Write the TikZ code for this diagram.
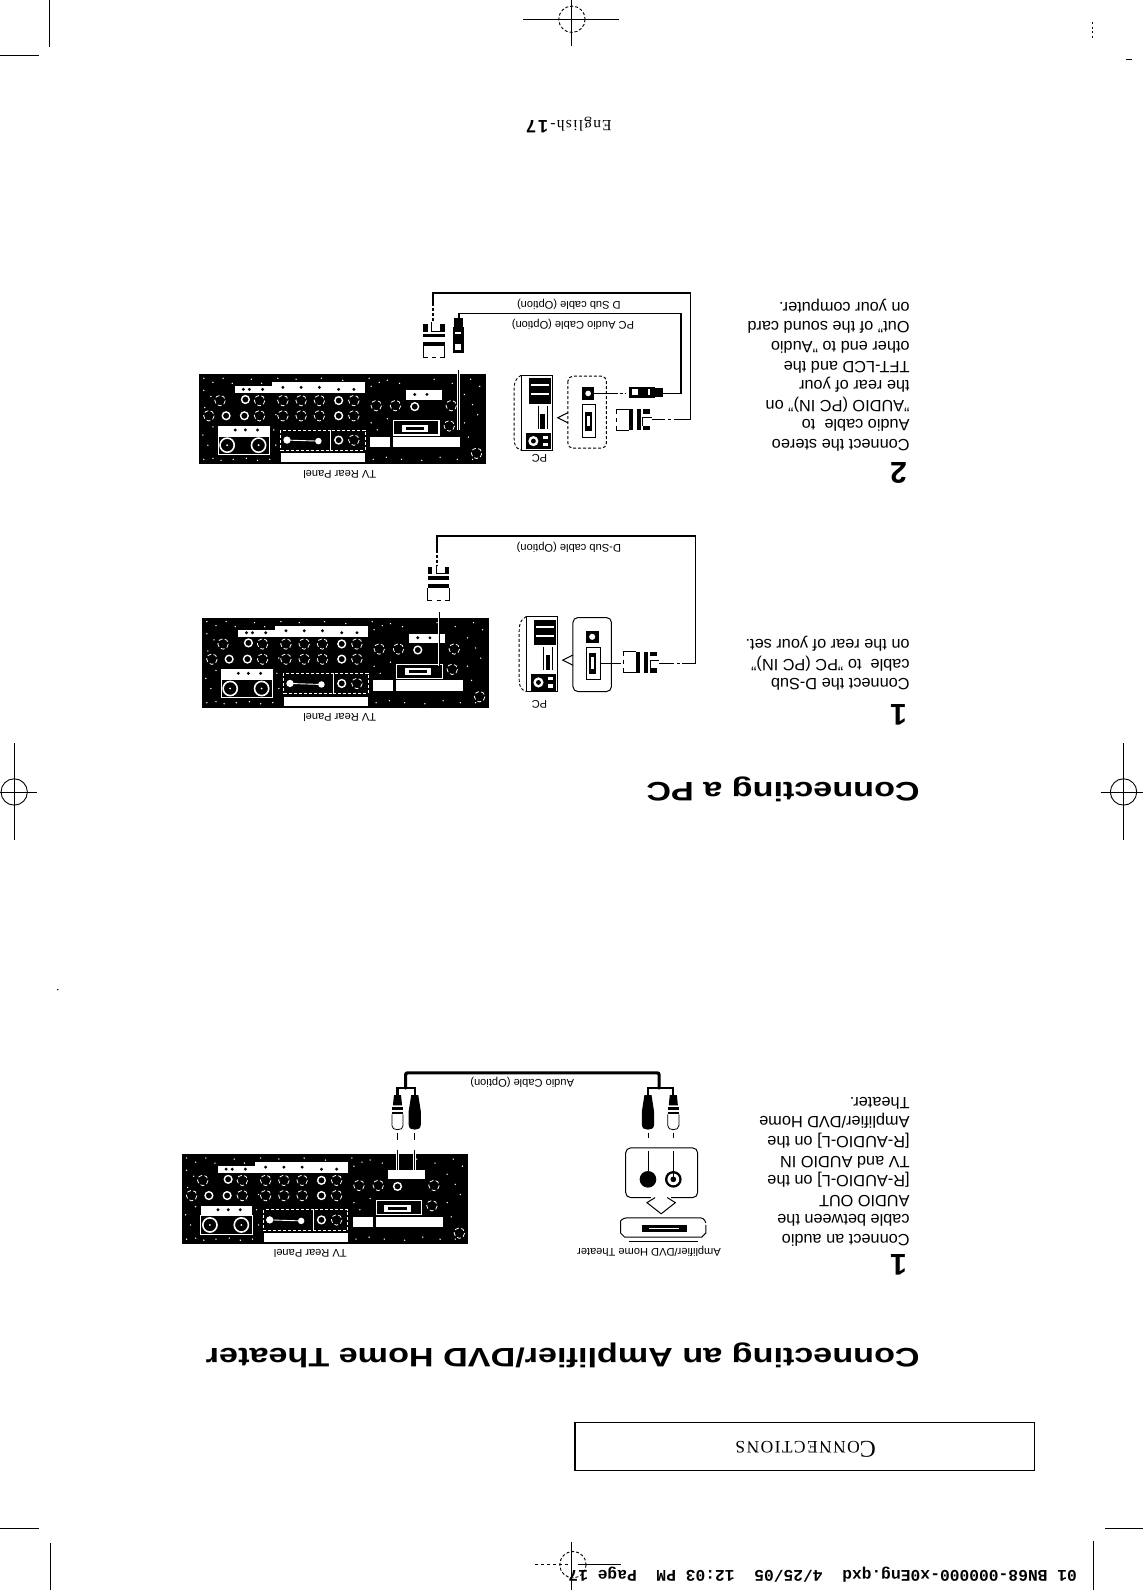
\documentclass[tikz,border=0pt]{standalone}
\usepackage{fontspec}
\setmainfont{Liberation Sans}
\newfontfamily\titlefont[FakeStretch=1.28,UprightFont={* Bold}]{Liberation Sans}
\newfontfamily\serifface{Liberation Serif}
\newfontfamily\monoface[UprightFont={* Bold}]{Liberation Mono}
\tikzset{
  flip/.style={rotate=180,inner sep=0pt,outer sep=0pt},
  caption/.style={flip,font=\fontsize{11.1}{13}\selectfont},
  pagetitle/.style={flip,anchor=west,font=\titlefont\fontsize{26.7}{30}\selectfont},
  stepnum/.style={flip,font=\bfseries\fontsize{30}{30}\selectfont},
  stepnote/.style={flip,anchor=north west,align=left,font=\fontsize{16.3}{19.6}\selectfont},
  crop/.style={draw=black,line width=0.9pt},
  cable/.style={draw=black,line width=1.3pt},
  thickcable/.style={draw=black,line width=3.2pt},
  portlead/.style={preaction={draw=white,line width=2.8pt},draw=black,line width=0.9pt},
  callout/.style={draw=black,line width=1pt,rounded corners=5pt},
  pics/tvpanel/.style={code={
    \fill[black] (0,0) rectangle (283,89);
    \fill[white] (36,12) rectangle (72,19);
    \fill[white] (72,8) rectangle (164,19);
    \fill[white] (19,51) rectangle (70,61);
    \draw[white,line width=0.9pt] (19,61) rectangle (70,79);
    \fill[white] (81,78) rectangle (164,87);
    \draw[white,line width=0.9pt,densely dashed] (81,55) rectangle (130,75);
    \draw[white,line width=0.9pt,densely dashed] (130,55) rectangle (164,75);
    \fill[white] (192,62) rectangle (258,72);
    \draw[white,line width=1.2pt] (192,46) rectangle (237,60);
    \fill[white] (204,16) rectangle (240,25);
    \fill[white] (169,62) rectangle (189,72);
    \fill[white] (200,50) rectangle (226,57);
    \fill[black] (204,52) rectangle (222,55);
    \foreach \px/\py in {44/15,50/15,63/15,83/13,101/13,119/13,138/15,153/15,213/20,225/20,36/55,46/55,58/55}
      \fill[black] (\px,\py) circle (1.6);
    \foreach \px/\py in {46/25,45/41,27/41,138/26,138/41,213/32,138/65}
      {\draw[white,line width=1.4pt] (\px,\py) circle (3.8);}
    \foreach \px/\py in {21/26,60/26,83/26,101/26,119/26,153/26,175/31,194/31,249/31,60/41,83/41,101/41,119/41,153/41,247/51,10/41,274/78,153/65}
      {\draw[white,line width=0.8pt,dash pattern=on 4pt off 2.5pt] (\px,\py) circle (5.2);}
    \foreach \px in {28,59}
      {\draw[white,line width=1.6pt] (\px,70) circle (7);
       \fill[white] (\px,70) circle (1);}
    \fill[white] (87,65) circle (3.6);
    \fill[white] (118,66) circle (3.2);
    \draw[white,line width=0.9pt] (87,65) -- (118,66);
    \foreach \px/\py in {5/4,14/8,24/4,33/9,52/5,62/9,78/4,96/5,121/4,142/6,168/4,186/6,198/9,232/5,250/9,268/5,277/12,
                         5/16,12/22,6/33,14/52,4/60,9/70,5/84,14/83,22/85,34/84,47/83,58/85,70/84,76/70,74/55,76/40,
                         170/12,178/8,186/44,170/48,176/55,262/20,270/30,262/48,275/40,266/62,270/84,255/84,238/82,220/85,200/84,185/82,172/84}
      {\fill[white] (\px,\py) circle (0.75);}
  }},
  pics/pctower/.style={code={
    \draw[black,line width=0.9pt,densely dashed] (7,0) .. controls (1,3) and (0,8) .. (0,14) -- (0,62) .. controls (0,68) and (1,72) .. (7,74);
    \draw[black,line width=0.9pt] (7,0) -- (38,0) -- (38,74) -- (7,74) -- cycle;
    \fill[black] (15,3) rectangle (36,28);
    \fill[white] (17,9) rectangle (34,11);
    \fill[white] (17,18) rectangle (34,20);
    \draw[black,line width=1pt] (24,30) -- (24,53) (33,30) -- (33,53);
    \fill[black] (26,38) rectangle (30,53);
    \fill[black] (12,57) rectangle (36,73);
    \fill[white] (19,65) circle (5);
    \fill[black] (19,65) circle (2.4);
    \fill[white] (28,60) rectangle (33,63);
    \fill[white] (28,67) rectangle (33,70);
  }},
  pics/vgaplug/.style={code={
    \fill[black] (-10.5,2) rectangle (-6,9);
    \fill[black] (6,2) rectangle (10.5,9);
    \draw[black,line width=1pt] (-2,0) -- (-2,9) -- (6,9);
    \fill[black] (-10.5,11) rectangle (10.5,14.5);
    \fill[black] (-10.5,19) rectangle (10.5,23);
    \draw[black,line width=1pt] (-10.5,23) -- (-10.5,35) -- (-6,35);
    \draw[black,line width=1pt] (10.5,23) -- (10.5,35) -- (6,35);
    \draw[black,line width=1pt] (-2,35) -- (2,35);
  }},
  pics/rcablack/.style={code={
    \fill[black] (-3.5,0) -- (3.5,0) -- (6,16) -- (6,29) .. controls (6,33) and (3,34) .. (0,34) .. controls (-3,34) and (-6,33) .. (-6,29) -- (-6,16) -- cycle;
  }},
  pics/rcawhite/.style={code={
    \fill[black] (-3.5,0) -- (3.5,0) -- (4.5,10) -- (-4.5,10) -- cycle;
    \fill[black] (-5.5,12) rectangle (5.5,15);
    \fill[black] (-5.5,17) rectangle (5.5,19);
    \draw[black,line width=0.8pt] (-5.5,19) -- (-5.5,30) .. controls (-5.5,33) and (-3,34) .. (0,34) .. controls (3,34) and (5.5,33) .. (5.5,30) -- (5.5,19);
    \draw[black,line width=0.8pt] (-2.5,3) -- (-2.5,8);
  }},
  pics/minijack/.style={code={
    \fill[black] (-4.5,0) rectangle (4.5,8);
    \fill[black] (-5.5,8) -- (5.5,8) -- (5.5,34) -- (-5.5,34) -- cycle;
    \fill[white] (-3,13) rectangle (3,15);
    \fill[white] (-3,25) rectangle (3,31);
  }},
}
\begin{document}
\begin{tikzpicture}[x=1.0142pt,y=-1.0142pt]
\useasboundingbox (0,0) rectangle (1127,1568);
% ---- crop and registration marks
\draw[crop] (49,0) -- (49,46) (0,55) -- (38,55);
\draw[crop] (516,19) -- (610,19) (564,0) -- (564,45);
\draw[crop,densely dashed] (564,19) circle (13);
\draw[crop,line width=0.6pt,dash pattern=on 2pt off 2.5pt] (1077,22) -- (1077,38);
\draw[crop,line width=0.6pt] (1110,58) -- (1116,58);
\draw[crop] (14,733) -- (14,828) (0,781) -- (36,781);
\draw[crop] (14,781) circle (13);
\draw[crop] (1108,733) -- (1108,828) (1086,781) -- (1127,781);
\draw[crop] (1108,781) circle (13);
\draw[crop] (50,1522) -- (50,1568) (0,1507) -- (38,1507);
\draw[crop] (1078,1520) -- (1078,1568) (1090,1507) -- (1127,1507);
\draw[crop] (564,1521) -- (564,1568) (570,1543) -- (612,1543);
\draw[crop,dashed] (528,1543) -- (560,1543);
\draw[crop,densely dashed] (565,1543) circle (13);
\fill[black] (57,976) circle (0.8);
% ---- page furniture
\node[flip,anchor=west,font=\monoface\fontsize{16.3}{18}\selectfont] (slug) at (1062,1553) {01 BN68-000000-x0Eng.qxd\ \ 4/25/05\ \ 12:03 PM\ \ Page 17};
\node[flip,font=\fontsize{14}{16}\selectfont] (folio) at (561,123) {{\serifface\addfontfeature{LetterSpace=8}\fontsize{15.5}{16}\selectfont English-}\,{\bfseries\addfontfeature{LetterSpace=12}\fontsize{18}{16}\selectfont 17}};
\node[draw=black,line width=1.3pt,minimum width=459.5pt,minimum height=47.5pt,inner sep=0pt] (sectionbox) at (793.5,1426.5) {};
\node[flip,font=\serifface] (sectionlabel) at (794.5,1429) {{\fontsize{24}{24}\selectfont C}{\fontsize{17.5}{20}\selectfont\addfontfeature{LetterSpace=8}ONNECTIONS}};
\node[pagetitle] (title1) at (907,1337) {Connecting an Amplifier/DVD Home Theater};
\node[pagetitle] (title2) at (907,778) {Connecting a PC};
% ---- step texts
\node[stepnum] (n1) at (886,1247) {1};
\node[stepnum] (n2) at (886,705) {1};
\node[stepnum] (n3) at (886,466) {2};
\node[stepnote] (s1) at (897,1229) {Connect an audio\\cable between the\\AUDIO OUT\\{[R-AUDIO-L]} on the\\TV and AUDIO IN\\{[R-AUDIO-L]} on the\\Amplifier/DVD Home\\Theater.};
\node[stepnote] (s2) at (897,681) {Connect the D-Sub\\cable\ \ to "PC (PC IN)"\\on the rear of your set.};
\node[stepnote] (s3) at (897,445) {Connect the stereo\\Audio cable\ \ to\\"AUDIO (PC IN)" on\\the rear of your\\TFT-LCD and the\\other end to "Audio\\Out" of the sound card\\on your computer.};
% ---- TV rear panels
\pic (panelA) at (179,1138) {tvpanel};
\pic (panelB) at (199,609) {tvpanel};
\pic (panelC) at (196,369) {tvpanel};
\node[caption] (capA) at (306,1236) {TV Rear Panel};
\node[caption] (capB) at (335,708) {TV Rear Panel};
\node[caption] (capC) at (335,468) {TV Rear Panel};
% ---- amplifier connection
\node[caption] (capAmp) at (640,1234) {Amplifier/DVD Home Theater};
\node[caption] (capAudio) at (515,1067) {Audio Cable (Option)};
\draw[black,line width=1pt,rounded corners=3pt] (612,1204) -- (615,1201) -- (694,1201) -- (696,1206);
\draw[black,line width=1pt] (612,1204) -- (612,1216) -- (616,1220) -- (692,1220) -- (696,1216) -- (696,1208);
\draw[black,line width=0.9pt] (620,1224) -- (688,1224);
\fill[black] (633,1208) rectangle (677,1215);
\fill[white] (640,1211) rectangle (670,1212);
\draw[callout] (617,1132) rectangle (688,1181);
\fill[white] (642,1178) rectangle (662,1184);
\draw[black,line width=1pt] (646,1181) -- (638,1186) -- (652,1197) -- (666,1186) -- (658,1181);
\fill[black] (639,1163) circle (8.2);
\fill[black] (664,1163) circle (8.2);
\fill[white] (664,1163) circle (5.8);
\fill[black] (664,1163) circle (2.8);
\coordinate (ampLjack) at (639,1163);
\coordinate (ampRjack) at (664,1163);
\coordinate (ampLtop) at (639,1135);
\coordinate (ampRtop) at (664,1135);
\draw[black,line width=0.9pt] (ampLtop) -- (ampLjack);
\draw[black,line width=0.9pt] (ampRtop) -- (ampRjack);
\draw[black,line width=0.9pt] (639,1117) -- (639,1122) (664,1117) -- (664,1122);
\draw[black,line width=0.9pt] (392,1117) -- (392,1124) (409,1117) -- (409,1124);
\coordinate (tvLtop) at (392,1134);
\coordinate (tvLin) at (392,1154);
\coordinate (tvRtop) at (409,1134);
\coordinate (tvRin) at (409,1154);
\draw[black,line width=1pt] (tvLtop) -- (392,1138);
\draw[black,line width=1pt] (tvRtop) -- (409,1138);
\draw[portlead] (392,1138) -- (tvLin);
\draw[portlead] (409,1138) -- (tvRin);
\fill[white] (388,1154) rectangle (414,1161);
\pic (plugTvW) at (392,1080) {rcawhite};
\pic (plugTvB) at (409,1080) {rcablack};
\pic (plugAmpB) at (639,1080) {rcablack};
\pic (plugAmpW) at (664,1080) {rcawhite};
\coordinate (forkL) at (400,1073);
\coordinate (forkR) at (650,1073);
\coordinate (cableTop) at (525,1058);
\draw[thickcable,line cap=round,rounded corners=2pt] (forkL) |- (cableTop) -| (forkR);
\draw[black,line width=2.2pt] (392,1080) |- (409,1073) -- (409,1080);
\draw[black,line width=2.2pt] (639,1080) |- (664,1073) -- (664,1080);
% ---- PC: D-Sub only
\node[caption] (capPc1) at (532,695) {PC};
\node[caption] (capDsub1) at (561,540) {D-Sub cable (Option)};
\pic (pc1) at (512,608) {pctower};
\draw[callout] (565,609) rectangle (603,682);
\draw[black,line width=1pt] (578,639) rectangle (592.5,670);
\fill[black] (581,644) rectangle (588,665);
\fill[white] (583,648) rectangle (586,660);
\fill[black] (578,622) rectangle (591,634);
\fill[white] (584,628) circle (3);
\draw[black,line width=1pt] (565,646) -- (555,651) -- (565,656);
\coordinate (pc1port) at (592,654);
\coordinate (pc1plug) at (612,654);
\draw[black,line width=1pt] (pc1port) -- (pc1plug);
\pic (pc1vga) at (650,653) [rotate=-90] {vgaplug};
\coordinate (b1a) at (650,654);
\coordinate (b1b) at (662,654);
\coordinate (b1c) at (673,654);
\coordinate (b1corner) at (686,654);
\coordinate (b1top) at (560,528.5);
\coordinate (b1d) at (431,542);
\coordinate (b1e) at (431,557);
\draw[cable] (b1a) -- (b1b);
\draw[cable,dashed] (b1b) -- (b1c);
\draw[cable] (b1c) -- (b1corner) |- (b1top) -| (b1d);
\draw[cable,densely dashed] (b1d) -- (b1e);
\pic (tv1vga) at (432.5,557) {vgaplug};
\coordinate (tv1leadtop) at (433,604);
\coordinate (tv1leadend) at (433,657);
\draw[portlead] (tv1leadtop) -- (tv1leadend);
% ---- PC: D-Sub and audio
\node[caption] (capPc2) at (532,452) {PC};
\node[caption] (capDsub2) at (561,300) {D Sub cable (Option)};
\node[caption] (capPcAudio) at (565,320) {PC Audio Cable (Option)};
\pic (pc2) at (507,370) {pctower};
\draw[callout,densely dashed] (560,371) rectangle (598,442);
\draw[black,line width=1pt] (574,399) rectangle (587,431);
\fill[black] (577,406) rectangle (584,425);
\fill[white] (579,410) rectangle (582,420);
\fill[black] (574,382) rectangle (586,394);
\fill[white] (580,388) circle (2.8);
\draw[black,line width=1pt] (560,407) -- (550,412) -- (560,417);
\pic (pc2vga) at (643,414) [rotate=-90] {vgaplug};
\coordinate (c1a) at (643,414);
\coordinate (c1b) at (653,414);
\coordinate (c1c) at (667,414);
\coordinate (c1corner) at (681,414);
\coordinate (c1top) at (555,289);
\coordinate (c1d) at (427,299);
\coordinate (c1e) at (427,318);
\draw[cable] (c1a) -- (c1b);
\draw[cable,dashed] (c1b) -- (c1c);
\draw[cable] (c1c) -- (c1corner) |- (c1top) -| (c1d);
\draw[cable,densely dashed] (c1d) -- (c1e);
\pic (tv2vga) at (428,318) {vgaplug};
\pic (pc2audio) at (654,387) [rotate=-90] {minijack};
\coordinate (a2plug) at (654,388);
\coordinate (a2corner) at (671.5,388);
\coordinate (a2top) at (560,309);
\coordinate (a2tv) at (452.5,314);
\draw[cable] (a2plug) -- (a2corner) |- (a2top) -| (a2tv);
\pic (tv2audio) at (452,314) {minijack};
\coordinate (a2port) at (586,388);
\coordinate (a2gap) at (606,388);
\coordinate (a2pin) at (616,388);
\draw[black,line width=1pt] (a2port) -- (a2gap);
\draw[black,line width=1pt,densely dashed] (a2gap) -- (a2pin);
\coordinate (tv2leadtop) at (452.5,365);
\coordinate (tv2leadend) at (452.5,424);
\draw[black,line width=1pt] (tv2leadtop) -- (452.5,369);
\draw[portlead] (452.5,369) -- (tv2leadend);
\end{tikzpicture}
\end{document}
